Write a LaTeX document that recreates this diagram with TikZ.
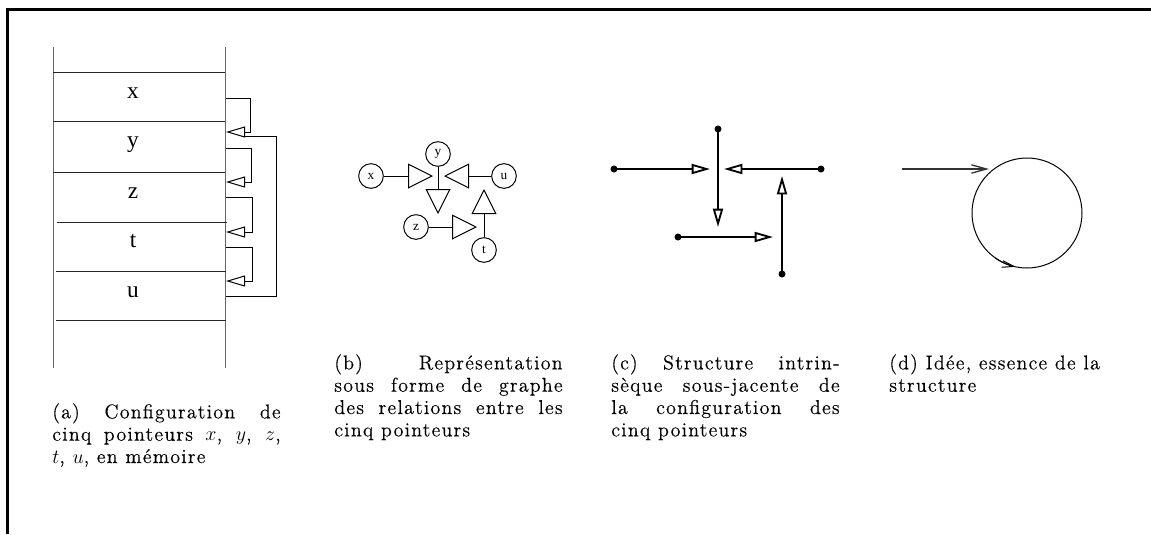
\documentclass[tikz,border=0pt]{standalone}
\usepackage{fontspec}
\usetikzlibrary{arrows.meta}
\newfontfamily\capfont{Latin Modern Roman}[LetterSpace=6,FakeBold=0.3]
\newfontfamily\tmsfont{Liberation Serif}
\newlength\capw
\setlength\capw{137pt}
\newcommand\capj[1]{\makebox[\capw][s]{#1}}
\newcommand\capl[1]{\makebox[\capw][l]{#1}}
\begin{document}
\begin{tikzpicture}[x=0.6pt,y=-0.6pt,
 frame/.style={line width=1.8pt},
 memv/.style={line width=0.6pt, black!60},
 memh/.style={line width=0.6pt, black!85},
 cell/.style={font=\tmsfont\fontsize{14}{14}\selectfont, anchor=base, inner sep=0pt},
 ptr/.style={line width=0.6pt, -{Triangle[open,length=11.4pt,width=6.6pt]}},
 loopline/.style={line width=0.6pt},
 vtx/.style={circle, draw, line width=0.6pt, minimum size=14.8pt, inner sep=0pt, font=\tmsfont\fontsize{8}{8}\selectfont},
 garr/.style={line width=0.6pt, -{Triangle[open,length=15pt,width=15pt]}},
 dot/.style={circle, fill, inner sep=0pt, minimum size=4.2pt},
 sarr/.style={line width=1.1pt, -{Triangle[open,length=11pt,width=6pt]}},
 capt/.style={anchor=north west, inner sep=0pt, align=left, font=\capfont\fontsize{12}{13.4}\selectfont}]
\useasboundingbox (0,0) rectangle (1151,534);
\draw[frame] (7,534) -- (7,9) -- (1151,9);
% ---------- (a) memory
\coordinate (aTL) at (53,47); \coordinate (aBL) at (53,368);
\coordinate (aTR) at (225,47); \coordinate (aBR) at (225,368);
\draw[memv] (aTL) -- (aBL);
\draw[memv] (aTR) -- (aBR);
\foreach \yy/\xa/\xb in {72/53/225, 121/53/225, 172/53/225, 222/57/227, 271/56/226, 320/56/226}
  \draw[memh] (\xa,\yy) -- (\xb,\yy);
\node[cell] (lx) at (133,98) {x};
\node[cell] (ly) at (133,147) {y};
\node[cell] (lz) at (133,198) {z};
\node[cell] (lt) at (133,247) {t};
\node[cell] (lu) at (133,297) {u};
\coordinate (px) at (226,98);
\coordinate (py) at (226,148);
\coordinate (pz) at (226,197);
\coordinate (pt) at (226,247);
\coordinate (pu) at (226,296);
\coordinate (ay) at (226,132);
\coordinate (az) at (226,182);
\coordinate (at) at (226,232);
\coordinate (au) at (226,281);
\draw[ptr] (px) -- (250,98) -- (250,132) -- (ay);
\draw[ptr] (py) -- (251,148) -- (251,182) -- (az);
\draw[ptr] (pz) -- (252,197) -- (252,232) -- (at);
\draw[ptr] (pt) -- (252,247) -- (252,281) -- (au);
\draw[loopline] (pu) -- (276,296) -- (276,136) -- (245,136);
% ---------- (b) graph
\node[vtx] (bx) at (371,176) {x};
\node[vtx] (by) at (438,154) {y};
\node[vtx] (bu) at (504,176) {u};
\node[vtx] (bz) at (416,227) {z};
\node[vtx] (bt) at (484,250) {t};
\coordinate (bxh) at (433,176);
\coordinate (byh) at (438,214);
\coordinate (buh) at (444,176);
\coordinate (bzh) at (477,227);
\coordinate (bth) at (484,189);
\draw[garr] (bx) -- (bxh);
\draw[garr] (by) -- (byh);
\draw[garr] (bu) -- (buh);
\draw[garr] (bz) -- (bzh);
\draw[garr] (bt) -- (bth);
% ---------- (c) structure
\node[dot] (ct) at (718,129) {};
\node[dot] (cl) at (614,169) {};
\node[dot] (cr) at (821,169) {};
\node[dot] (cbl) at (678,237) {};
\node[dot] (cb) at (782,274) {};
\coordinate (ctt) at (718,227);
\coordinate (clt) at (710,169);
\coordinate (crt) at (724,169);
\coordinate (cblt) at (773,237);
\coordinate (cbt) at (782,176);
\draw[sarr] (ct.center) -- (ctt);
\draw[sarr] (cl.center) -- (clt);
\draw[sarr] (cr.center) -- (crt);
\draw[sarr] (cbl.center) -- (cblt);
\draw[sarr] (cb.center) -- (cbt);
% ---------- (d) idea
\coordinate (din) at (902,169);
\coordinate (dinh) at (989,169);
\draw[line width=0.8pt, black!80, -{Straight Barb[length=9pt,width=5pt]}] (din) -- (dinh);
\node[circle, draw, line width=0.6pt, minimum size=66pt, inner sep=0pt, outer sep=0pt] (dc) at (1027,213) {};
\draw[line width=0.6pt, -{Straight Barb[length=7pt,width=4pt]}] (dc.235) arc[start angle=235, end angle=258, radius=33pt];
% ---------- captions
\node[capt] (capa) at (52,403) {\capj{(a) Configuration de}\\ \capj{cinq pointeurs $x$, $y$, $z$,}\\ \capl{$t$, $u$, en mémoire}};
\node[capt] (capb) at (334,354) {\capj{(b) Représentation}\\ \capj{sous forme de graphe}\\ \capj{des relations entre les}\\ \capl{cinq pointeurs}};
\node[capt] (capc) at (611,354) {\capj{(c) Structure intrin-}\\ \capj{sèque sous-jacente de}\\ \capj{la configuration des}\\ \capl{cinq pointeurs}};
\node[capt] (capd) at (889,354) {\capl{(d) Idée, essence de la}\\ \capl{structure}};
\end{tikzpicture}
\end{document}
